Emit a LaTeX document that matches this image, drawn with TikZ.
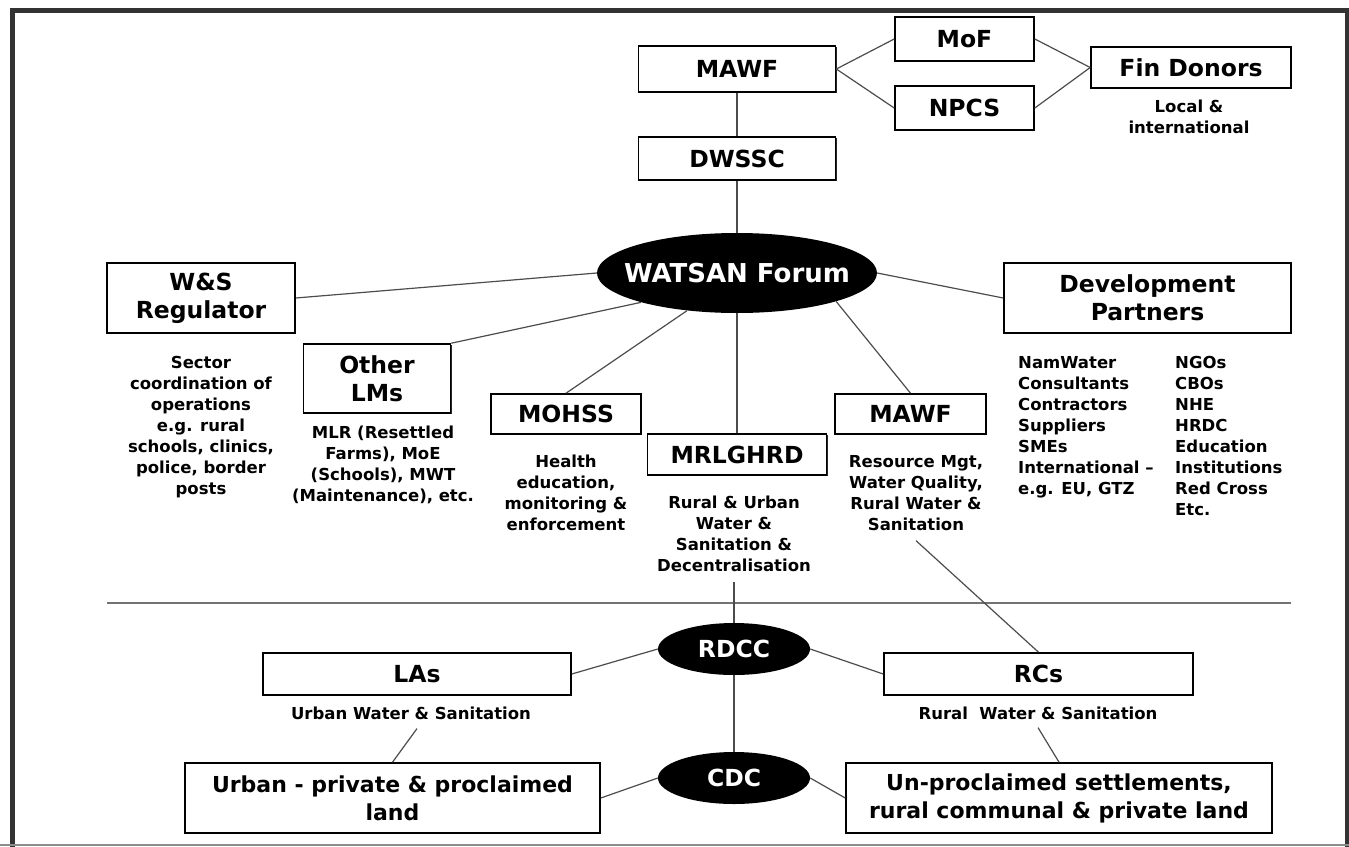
\documentclass[tikz,border=0pt]{standalone}
\usepackage{fontspec}
\usepackage{tikz}
\usetikzlibrary{shapes.geometric,shadows,positioning}
\newfontfamily\verdana{DejaVu Sans}
\newcommand\titolo{\verdana\bfseries\fontsize{23.5}{28}\selectfont}
\newcommand\terra{\verdana\bfseries\fontsize{22}{28}\selectfont}
\newcommand\nota{\verdana\bfseries\fontsize{16.5}{21}\selectfont}
\newcommand\forum{\verdana\bfseries\fontsize{26}{30}\selectfont}
\tikzset{
  scatola/.style={draw=black,line width=1.6pt,fill=white,align=center,inner sep=0pt,font=\titolo,
    drop shadow={shadow xshift=1.2pt,shadow yshift=-1.2pt,opacity=1,fill=black!85}},
  ovale/.style={ellipse,fill=black,text=white,inner sep=0pt,font=\titolo},
  nota/.style={align=center,inner sep=0pt,font=\nota},
  filo/.style={draw=black!70,line width=1.2pt},
  cornice/.style={draw=black!80,line width=5pt}
}

\begin{document}
\begin{tikzpicture}[x=1pt,y=-1pt]
\useasboundingbox (0,0) rectangle (1349,846);
\draw[cornice] (12,850) -- (12,10) -- (1347,10) -- (1347,850);
\draw[black!45,line width=1.5pt] (0,845) -- (1349,845);
\draw[black!55,line width=2pt] (107,603) -- (1291,603);

% livello nazionale
\node[scatola,minimum width=197pt,minimum height=46pt] (mawf) at (737,69) {MAWF};
\node[scatola,minimum width=139pt,minimum height=44pt] (mof) at (964.5,39) {MoF};
\node[scatola,minimum width=139pt,minimum height=44pt] (npcs) at (964.5,108) {NPCS};
\node[scatola,minimum width=200pt,minimum height=41pt] (fin) at (1191,67.5) {Fin Donors};
\node[nota] (nfin) at (1189,117) {Local \&\\international};
\node[scatola,minimum width=197pt,minimum height=43pt] (dwssc) at (737,158.5) {DWSSC};
\node[ovale,minimum width=280pt,minimum height=80pt,inner xsep=-16pt,font=\forum] (wat) at (737,273) {WATSAN Forum};

\node[scatola,minimum width=188pt,minimum height=70pt] (reg) at (201,298) {W\&S\\Regulator};
\node[scatola,minimum width=147pt,minimum height=69pt] (oth) at (377,378.5) {Other\\LMs};
\node[scatola,minimum width=150pt,minimum height=40pt] (moh) at (566,414) {MOHSS};
\node[scatola,minimum width=179pt,minimum height=41pt] (mrl) at (737,454.5) {MRLGHRD};
\node[scatola,minimum width=151pt,minimum height=40pt] (mawf2) at (910.5,414) {MAWF};
\node[scatola,minimum width=287pt,minimum height=70pt] (dp) at (1147.5,298) {Development\\Partners};

\node[nota,anchor=north] (nreg) at (201,356) {Sector\\coordination of\\operations\\e.g. rural\\schools, clinics,\\police, border\\posts};
\node[nota,anchor=north] (noth) at (383,426) {MLR (Resettled\\Farms), MoE\\(Schools), MWT\\(Maintenance), etc.};
\node[nota,anchor=north] (nmoh) at (566,455) {Health\\education,\\monitoring \&\\enforcement};
\node[nota,anchor=north] (nmrl) at (734,496) {Rural \& Urban\\Water \&\\Sanitation \&\\Decentralisation};
\node[nota,anchor=north] (nmawf) at (916,455) {Resource Mgt,\\Water Quality,\\Rural Water \&\\Sanitation};
\node[nota,anchor=north west,align=left] (ndp1) at (1018,356) {NamWater\\Consultants\\Contractors\\Suppliers\\SMEs\\International –\\e.g. EU, GTZ};
\node[nota,anchor=north west,align=left] (ndp2) at (1175,356) {NGOs\\CBOs\\NHE\\HRDC\\Education\\Institutions\\Red Cross\\Etc.};

% livello regionale
\node[ovale,minimum width=152pt,minimum height=52pt] (rdcc) at (734,649) {RDCC};
\node[ovale,minimum width=152pt,minimum height=52pt] (cdc) at (734,778) {CDC};
\node[scatola,minimum width=308pt,minimum height=42pt] (las) at (417,674) {LAs};
\node[scatola,minimum width=309pt,minimum height=42pt] (rcs) at (1038.5,674) {RCs};
\node[nota] (nlas) at (411,713) {Urban Water \& Sanitation};
\node[nota] (nrcs) at (1038,713) {Rural\ \ Water \& Sanitation};
\node[scatola,minimum width=415pt,minimum height=70pt,font=\terra] (urb) at (392.5,798) {Urban - private \& proclaimed\\land};
\node[scatola,minimum width=426pt,minimum height=70pt,font=\terra] (unp) at (1059,798) {Un-proclaimed settlements,\\rural communal \& private land};

% collegamenti
\draw[filo] (mawf) -- (dwssc);
\draw[filo] (mawf.east) -- (mof.west);
\draw[filo] (mawf.east) -- (npcs.west);
\draw[filo] (mof.east) -- (fin.west);
\draw[filo] (npcs.east) -- (fin.west);
\draw[filo] (dwssc) -- (wat);
\draw[filo] (reg.east) -- (wat.west);
\draw[filo] (oth.north east) -- (wat.197);
\draw[filo] (moh.north) -- (wat.217);
\draw[filo] (wat.south) -- (mrl.north);
\draw[filo] (wat.344) -- (mawf2.north);
\draw[filo] (wat.east) -- (dp.west);
\draw[filo] ([yshift=-10pt]nmrl.south) -- (rdcc.north);
\draw[filo] ([yshift=-10pt]nmawf.south) -- (rcs.north);
\draw[filo] (rdcc.west) -- (las.east);
\draw[filo] (rdcc.east) -- (rcs.west);
\draw[filo] (rdcc) -- (cdc);
\draw[filo] (cdc.west) -- (urb.east);
\draw[filo] (cdc.east) -- (unp.west);
\draw[filo] ([xshift=6pt,yshift=-9pt]nlas.south) -- (urb.north);
\draw[filo] ([yshift=-8pt]nrcs.south) -- (unp.north);
\end{tikzpicture}
\end{document}
